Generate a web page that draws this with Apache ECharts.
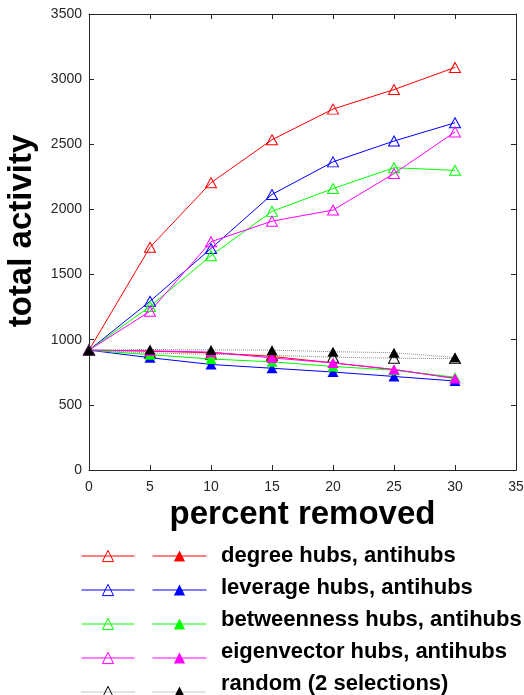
<!DOCTYPE html>
<html>
<head>
<meta charset="utf-8">
<script src="https://cdn.jsdelivr.net/npm/echarts@6/dist/echarts.min.js"></script>
<style>
html,body{margin:0;padding:0;background:#fff;}
#chart{width:524px;height:695px;}
</style>
</head>
<body>
<div id="chart"></div>
<script>
var percentRemoved = [0, 5, 10, 15, 20, 25, 30];
var xTicks = [0, 5, 10, 15, 20, 25, 30, 35];
var yTicks = [0, 500, 1000, 1500, 2000, 2500, 3000, 3500];

var degreeHubs      = [920, 1710, 2205, 2535, 2770, 2920, 3090];
var degreeAnti      = [920,  912,  900,  872,  822,  770,  705];
var leverageHubs    = [920, 1295, 1700, 2115, 2365, 2525, 2665];
var leverageAnti    = [920,  862,  810,  781,  752,  718,  683];
var betweennessHubs = [920, 1255, 1645, 1985, 2160, 2320, 2300];
var betweennessAnti = [920,  885,  852,  830,  795,  766,  712];
var eigenHubs       = [920, 1218, 1752, 1910, 1995, 2275, 2595];
var eigenAnti       = [920,  915,  905,  860,  822,  772,  702];
var random1         = [920,  898,  888,  880,  866,  858,  855];
var random2         = [920,  925,  922,  920,  908,  900,  864];

var groups = [
  {key: 'degree', label: 'degree hubs, antihubs', color: '#ff0000', line: '#ff0000', open: degreeHubs, filled: degreeAnti, type: 'solid'},
  {key: 'leverage', label: 'leverage hubs, antihubs', color: '#0000ff', line: '#0000ff', open: leverageHubs, filled: leverageAnti, type: 'solid'},
  {key: 'betweenness', label: 'betweenness hubs, antihubs', color: '#00ff00', line: '#00ff00', open: betweennessHubs, filled: betweennessAnti, type: 'solid'},
  {key: 'eigenvector', label: 'eigenvector hubs, antihubs', color: '#ff00ff', line: '#ff00ff', open: eigenHubs, filled: eigenAnti, type: 'solid'},
  {key: 'random', label: 'random (2 selections)', color: '#000000', line: '#8c8c8c', open: random1, filled: random2, type: 'dotted'}
];

function pairs(arr) { return percentRemoved.map(function (x, i) { return [x, arr[i]]; }); }

var FONT = '"Liberation Sans", Arial, Helvetica, sans-serif';
var AXC = '#262626';
var series = [];
var legendOpen = [];
var legendFilled = [];
var legendText = [];
var labelMap = {};
groups.forEach(function (g) {
  var nOpen = g.key + ' hubs';
  var nFilled = g.key + ' antihubs';
  labelMap[nFilled] = g.label;
  series.push({
    name: nOpen, type: 'line', data: pairs(g.open),
    symbol: 'triangle', symbolSize: [11, 10], showSymbol: true,
    lineStyle: {color: g.line, width: 1, type: g.type},
    itemStyle: {color: 'rgba(0,0,0,0)', borderColor: g.color, borderWidth: 1},
    emphasis: {disabled: true}, z: 2
  });
  series.push({
    name: nFilled, type: 'line', data: pairs(g.filled),
    symbol: 'triangle', symbolSize: [11, 10], showSymbol: true,
    lineStyle: {color: g.line, width: 1, type: g.type},
    itemStyle: {color: g.color, borderWidth: 0},
    emphasis: {disabled: true}, z: 3
  });
  legendOpen.push({name: nOpen,
    itemStyle: {color: 'rgba(0,0,0,0)', borderColor: g.color, borderWidth: 1},
    lineStyle: {color: g.line, width: 1, type: g.type}});
  legendFilled.push({name: nFilled,
    itemStyle: {color: g.color, borderWidth: 0},
    lineStyle: {color: g.line, width: 1, type: g.type}});
  legendText.push({name: nFilled, icon: 'rect',
    itemStyle: {color: 'rgba(0,0,0,0)', borderWidth: 0}});
});

function makeAxis(extra) {
  var base = {
    type: 'value', min: 0,
    axisLine: {show: true, onZero: false, lineStyle: {color: AXC, width: 1}},
    axisTick: {show: true, inside: true, length: 5, lineStyle: {color: AXC, width: 1}},
    splitLine: {show: false}
  };
  return Object.assign(base, extra);
}
function plain(v) { return String(v); }

var option = {
  animation: false,
  backgroundColor: '#ffffff',
  grid: {left: 89, right: 8, top: 14, bottom: 225, containLabel: false, outerBoundsMode: 'none'},
  xAxis: [
    makeAxis({
      max: xTicks[xTicks.length - 1], interval: xTicks[1] - xTicks[0], position: 'bottom',
      axisLabel: {color: AXC, fontSize: 14, fontFamily: FONT, margin: 10, formatter: plain},
      name: 'percent removed', nameLocation: 'middle', nameGap: 24,
      nameTextStyle: {fontSize: 33, fontWeight: 'bold', color: '#000', fontFamily: FONT}
    }),
    makeAxis({
      max: xTicks[xTicks.length - 1], interval: xTicks[1] - xTicks[0], position: 'top',
      axisLabel: {show: false}
    })
  ],
  yAxis: [
    makeAxis({
      max: yTicks[yTicks.length - 1], interval: yTicks[1] - yTicks[0], position: 'left',
      axisLabel: {color: AXC, fontSize: 14, fontFamily: FONT, margin: 7, formatter: plain},
      name: 'total activity', nameLocation: 'middle', nameGap: 51,
      nameTextStyle: {fontSize: 33, fontWeight: 'bold', color: '#000', fontFamily: FONT, padding: [0, 0, 0, 22]}
    }),
    makeAxis({
      max: yTicks[yTicks.length - 1], interval: yTicks[1] - yTicks[0], position: 'right',
      axisLabel: {show: false}
    })
  ],
  legend: [
    {
      orient: 'vertical', left: 76, top: 534, height: 300, padding: 5,
      itemWidth: 53, itemHeight: 14, itemGap: 0,
      selectedMode: false, data: legendOpen,
      formatter: function () { return ' '; },
      textStyle: {fontSize: 22, lineHeight: 34, fontFamily: FONT}
    },
    {
      orient: 'vertical', left: 147, top: 534, height: 300, padding: 5,
      itemWidth: 54, itemHeight: 14, itemGap: 0,
      selectedMode: false, data: legendFilled,
      formatter: function () { return ' '; },
      textStyle: {fontSize: 22, lineHeight: 34, fontFamily: FONT}
    },
    {
      orient: 'vertical', left: 210, top: 540, height: 300, padding: 5,
      itemWidth: 1, itemHeight: 1, itemGap: 10,
      selectedMode: false, data: legendText,
      formatter: function (name) { return labelMap[name]; },
      textStyle: {fontSize: 22, lineHeight: 22, fontWeight: 'bold', color: '#000', fontFamily: FONT}
    }
  ],
  series: series
};

var chart = echarts.init(document.getElementById('chart'), null, {renderer: 'canvas'});
chart.setOption(option);
</script>
</body>
</html>
